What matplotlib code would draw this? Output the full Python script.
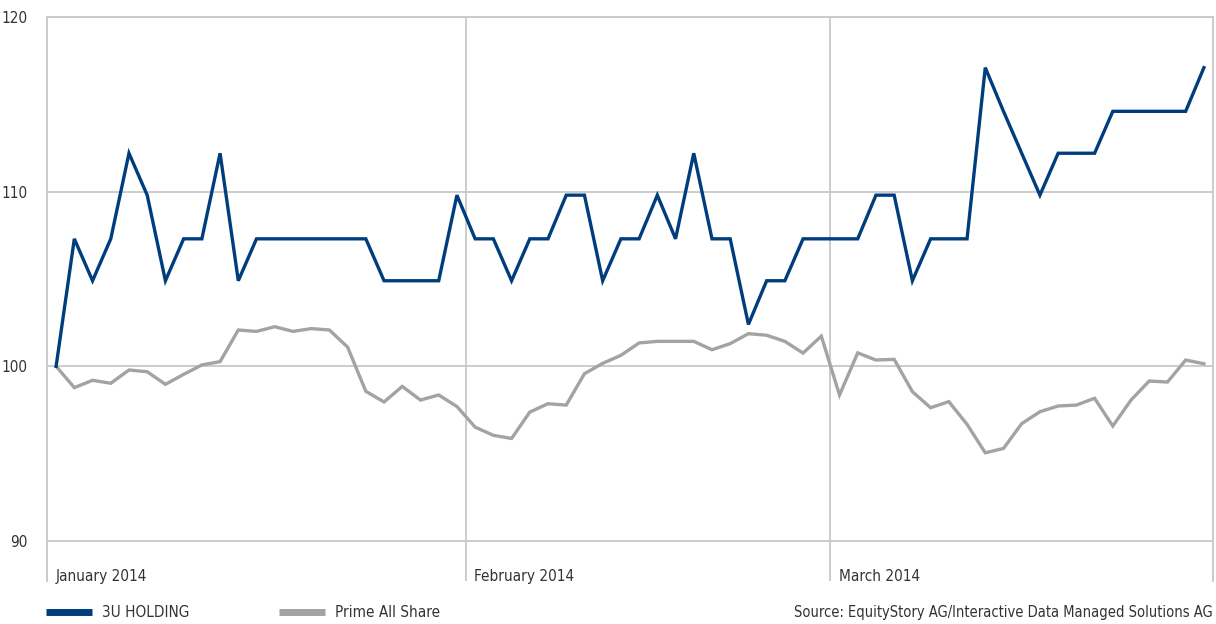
import matplotlib
matplotlib.use("Agg")
import matplotlib.pyplot as plt

plt.rcParams['font.family'] = ['DejaVu Sans']
plt.rcParams['font.stretch'] = 'condensed'

# 64 trading days, end of Dec 2013 to end of March 2014 (indexed, start = 100)
holding = [100.0, 107.3, 104.9, 107.3, 112.2, 109.8, 104.9, 107.3, 107.3, 112.2,
           104.9, 107.3, 107.3, 107.3, 107.3, 107.3, 107.3, 107.3, 104.9, 104.9,
           104.9, 104.9, 109.8,
           107.3, 107.3, 104.9, 107.3, 107.3, 109.8, 109.8, 104.9, 107.3, 107.3,
           109.8, 107.3, 112.2, 107.3, 107.3, 102.4, 104.9, 104.9, 107.3, 107.3,
           107.3, 107.3, 109.8, 109.8, 104.9, 107.3, 107.3, 107.3, 117.1, 114.6,
           112.2, 109.8, 112.2, 112.2, 112.2, 114.6, 114.6, 114.6, 114.6, 114.6,
           117.1]
prime = [100.0, 98.78, 99.2, 99.03, 99.79, 99.69, 98.97, 99.54, 100.08, 100.27,
         102.08, 102.0, 102.27, 102.0, 102.16, 102.08, 101.1, 98.57, 97.96, 98.85,
         98.07, 98.36, 97.7,
         96.52, 96.05, 95.87, 97.38, 97.86, 97.78, 99.58, 100.17, 100.63, 101.34,
         101.43, 101.43, 101.43, 100.95, 101.3, 101.87, 101.78, 101.43, 100.76, 101.73,
         98.36, 100.77, 100.36, 100.4, 98.55, 97.63, 97.98, 96.68, 95.05, 95.3,
         96.72, 97.4, 97.73, 97.78, 98.17, 96.58, 98.07, 99.16, 99.1, 100.36,
         100.15]
month_labels = ['January 2014', 'February 2014', 'March 2014']
month_starts = [0, 23, 43]
y_ticks = [90, 100, 110, 120]

x = list(range(len(holding)))

fig = plt.figure(figsize=(12.16, 6.24), dpi=100)
ax = fig.add_axes([47/1216, 1 - 581/624, (1213 - 47)/1216, (581 - 17)/624])

grid_c = '#c8c8c8'
txt_c = '#333333'
fs = 10.5

for v in y_ticks:
    ax.axhline(v, color=grid_c, lw=1.3, zorder=1)
for s in month_starts[1:]:
    ax.axvline(s - 0.5, color=grid_c, lw=1.3, zorder=1)

ax.plot(x, prime, color='#a3a3a3', lw=2.4, label='Prime All Share', zorder=2,
        solid_joinstyle='miter')
ax.plot(x, holding, color='#003d7d', lw=2.4, label='3U HOLDING', zorder=3,
        solid_joinstyle='miter')

ax.set_xlim(-0.5, len(x) - 0.5)
ax.set_ylim(87.71, 120)

for sp in ['left', 'right', 'top']:
    ax.spines[sp].set_color(grid_c)
    ax.spines[sp].set_linewidth(1.3)
ax.spines['bottom'].set_visible(False)

ax.set_yticks(y_ticks)
ax.set_yticklabels([str(v) for v in y_ticks])
ax.tick_params(axis='y', length=0, pad=14, labelsize=fs + 0.5, labelcolor=txt_c)
ax.set_xticks([])

for lbl, s in zip(month_labels, month_starts):
    ax.annotate(lbl, xy=(s - 0.5, 87.71), xytext=(6, 0), textcoords='offset points',
                ha='left', va='baseline', fontsize=fs + 0.5, color=txt_c)

h = ax.get_legend_handles_labels()
handles = [h[0][1], h[0][0]]
labels = [h[1][1], h[1][0]]
leg = fig.legend(handles, labels, loc='center left', bbox_to_anchor=(46/1216, 1 - 612.5/624),
                 ncol=2, frameon=False, fontsize=fs + 0.5, handlelength=3.0,
                 handletextpad=0.65, columnspacing=5.9, labelcolor=txt_c,
                 borderpad=0, borderaxespad=0)
for line in leg.get_lines():
    line.set_linewidth(5)
    line.set_solid_capstyle('butt')

fig.text(1213/1216, 1 - 612/624, 'Source: EquityStory AG/Interactive Data Managed Solutions AG',
         ha='right', va='center', fontsize=fs, color=txt_c)

fig.savefig('out.png', dpi=100)
